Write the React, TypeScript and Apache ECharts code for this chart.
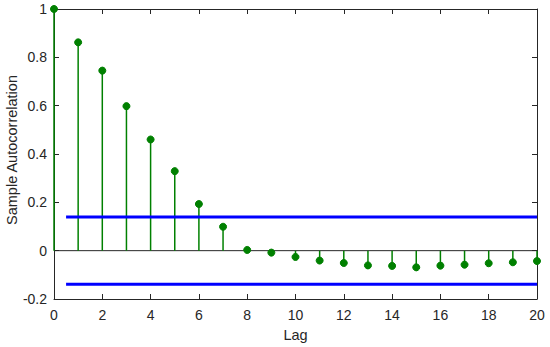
import React, { useEffect, useRef } from "react";
import * as echarts from "echarts";

const lags = [0, 1, 2, 3, 4, 5, 6, 7, 8, 9, 10, 11, 12, 13, 14, 15, 16, 17, 18, 19, 20];
const acf = [1, 0.862, 0.745, 0.598, 0.46, 0.329, 0.193, 0.099, 0.003, -0.008, -0.026, -0.041, -0.051, -0.061, -0.063, -0.069, -0.062, -0.058, -0.052, -0.048, -0.043];
const boundUpper = 0.139;
const boundLower = -0.139;
const boundStart = 0.5;
const boundEnd = 20;
const yAxisTitle = "Sample Autocorrelation";
const xAxisTitle = "Lag";

const axisColor = "#262626";
const font = "'Liberation Sans', Arial, Helvetica, sans-serif";

export default function App() {
  const ref = useRef<HTMLDivElement>(null);
  useEffect(() => {
    const chart = echarts.init(ref.current!, null, { renderer: "svg" });
    const stemData = lags.map((l, i) => [l, acf[i]]);
    const axisCommon = {
      axisLine: { show: true, onZero: false, lineStyle: { color: axisColor, width: 1 } },
      axisTick: { show: true, inside: true, length: 5, lineStyle: { color: axisColor } },
      splitLine: { show: false },
    };
    chart.setOption({
      animation: false,
      grid: { left: 54, right: 13, top: 9, bottom: 48, containLabel: false, outerBoundsMode: "none" },
      graphic: [
        {
          type: "text",
          x: 12,
          y: 150,
          rotation: Math.PI / 2,
          style: {
            text: yAxisTitle,
            fill: axisColor,
            fontSize: 14.5,
            fontFamily: font,
            align: "center",
            verticalAlign: "middle",
          },
        },
      ],
      xAxis: [
        {
          type: "value",
          min: 0,
          max: 20,
          interval: 2,
          name: xAxisTitle,
          nameLocation: "middle",
          nameGap: 28,
          nameTextStyle: { color: axisColor, fontSize: 14.5, fontFamily: font },
          axisLabel: { color: axisColor, fontSize: 14, fontFamily: font, margin: 9 },
          ...axisCommon,
        },
        {
          type: "value",
          position: "top",
          min: 0,
          max: 20,
          interval: 2,
          axisLabel: { show: false },
          ...axisCommon,
        },
      ],
      yAxis: [
        {
          type: "value",
          min: -0.2,
          max: 1,
          interval: 0.2,
          axisLabel: {
            color: axisColor,
            fontSize: 14,
            fontFamily: font,
            margin: 7,
            formatter: (v: number) => String(Math.round(v * 10) / 10),
          },
          ...axisCommon,
        },
        {
          type: "value",
          position: "right",
          min: -0.2,
          max: 1,
          interval: 0.2,
          axisLabel: { show: false },
          ...axisCommon,
        },
      ],
      series: [
        {
          type: "line",
          data: [[0, 0], [20, 0]],
          symbol: "none",
          lineStyle: { color: axisColor, width: 1 },
          silent: true,
          z: 1,
        },
        {
          type: "custom",
          data: stemData,
          z: 2,
          renderItem: (params: any, api: any) => {
            const x = api.value(0);
            const y = api.value(1);
            const p0 = api.coord([x, 0]);
            const p1 = api.coord([x, y]);
            return {
              type: "group",
              children: [
                {
                  type: "line",
                  shape: { x1: p0[0], y1: p0[1], x2: p1[0], y2: p1[1] },
                  style: { stroke: "#008000", lineWidth: 1.5 },
                },
                {
                  type: "circle",
                  shape: { cx: p1[0], cy: p1[1], r: 3.5 },
                  style: { fill: "#008000", stroke: "#008000" },
                },
              ],
            };
          },
        },
        {
          type: "line",
          data: [[boundStart, boundUpper], [boundEnd, boundUpper]],
          symbol: "none",
          lineStyle: { color: "#0000FF", width: 3 },
          silent: true,
          z: 3,
        },
        {
          type: "line",
          data: [[boundStart, boundLower], [boundEnd, boundLower]],
          symbol: "none",
          lineStyle: { color: "#0000FF", width: 3 },
          silent: true,
          z: 3,
        },
      ],
    });
    return () => chart.dispose();
  }, []);
  return <div ref={ref} style={{ width: 550, height: 347, position: "absolute", left: 0, top: 0 }} />;
}
